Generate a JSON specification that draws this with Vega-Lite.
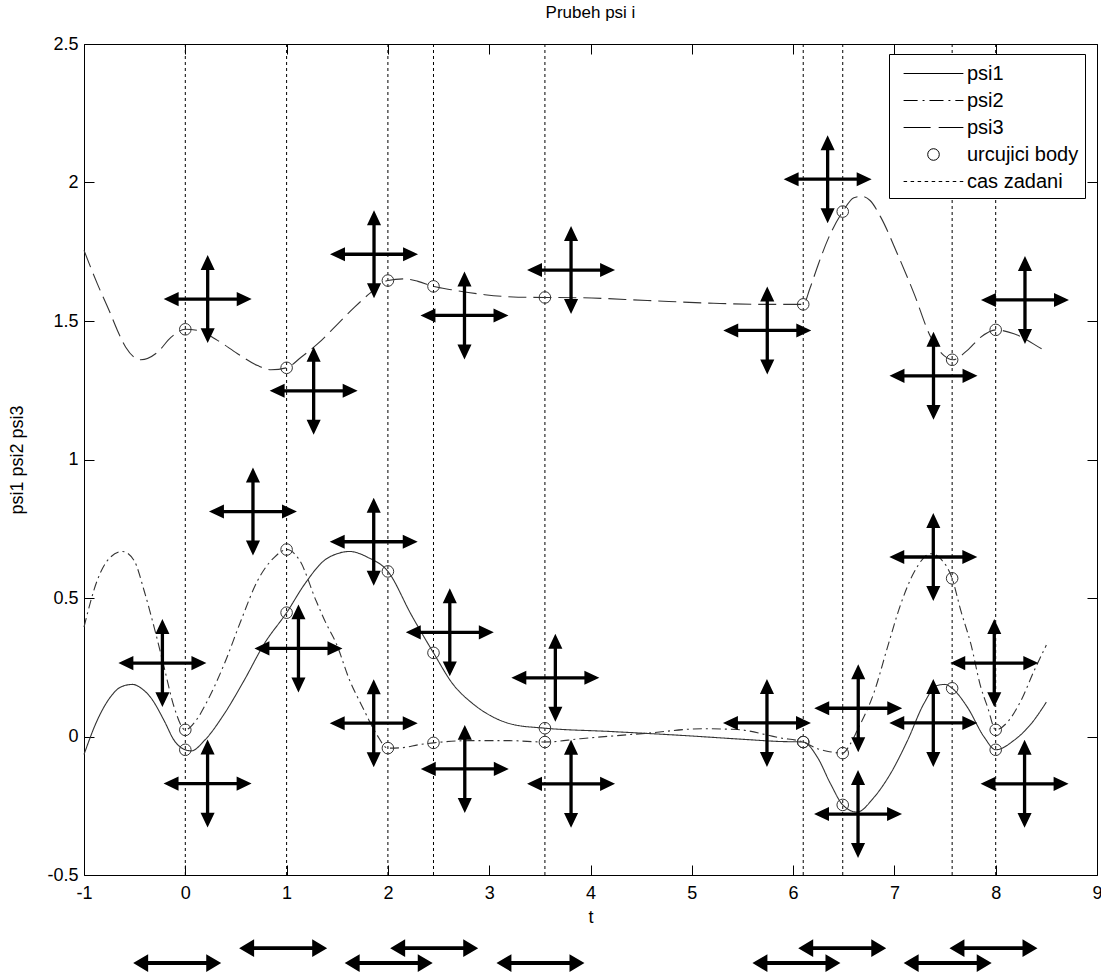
{
  "$schema": "https://vega.github.io/schema/vega-lite/v6.json",
  "width": 1013,
  "height": 831,
  "autosize": "none",
  "padding": {"left": 84, "top": 44, "right": 4, "bottom": 100},
  "background": "white",
  "title": {"text": "Prubeh psi i", "font": "Liberation Sans", "fontSize": 17, "fontWeight": "normal", "color": "black", "offset": 13, "frame": "group", "anchor": "middle"},
  "config": {"view": {"stroke": null}},
  "datasets": {
    "curves": [
      {"t": -1.0, "value": -0.065, "series": "psi1"},
      {"t": -0.87, "value": 0.058, "series": "psi1"},
      {"t": -0.74, "value": 0.142, "series": "psi1"},
      {"t": -0.63, "value": 0.18, "series": "psi1"},
      {"t": -0.52, "value": 0.188, "series": "psi1"},
      {"t": -0.42, "value": 0.17, "series": "psi1"},
      {"t": -0.34, "value": 0.14, "series": "psi1"},
      {"t": -0.21, "value": 0.058, "series": "psi1"},
      {"t": -0.11, "value": -0.014, "series": "psi1"},
      {"t": 0.0, "value": -0.048, "series": "psi1"},
      {"t": 0.06, "value": -0.052, "series": "psi1"},
      {"t": 0.19, "value": -0.014, "series": "psi1"},
      {"t": 0.385, "value": 0.082, "series": "psi1"},
      {"t": 0.58, "value": 0.202, "series": "psi1"},
      {"t": 0.78, "value": 0.335, "series": "psi1"},
      {"t": 1.0, "value": 0.447, "series": "psi1"},
      {"t": 1.18, "value": 0.551, "series": "psi1"},
      {"t": 1.37, "value": 0.635, "series": "psi1"},
      {"t": 1.5, "value": 0.66, "series": "psi1"},
      {"t": 1.62, "value": 0.668, "series": "psi1"},
      {"t": 1.8, "value": 0.647, "series": "psi1"},
      {"t": 2.0, "value": 0.596, "series": "psi1"},
      {"t": 2.23, "value": 0.44, "series": "psi1"},
      {"t": 2.45, "value": 0.302, "series": "psi1"},
      {"t": 2.64, "value": 0.19, "series": "psi1"},
      {"t": 2.84, "value": 0.118, "series": "psi1"},
      {"t": 3.04, "value": 0.07, "series": "psi1"},
      {"t": 3.24, "value": 0.043, "series": "psi1"},
      {"t": 3.55, "value": 0.03, "series": "psi1"},
      {"t": 4.2, "value": 0.018, "series": "psi1"},
      {"t": 4.9, "value": 0.004, "series": "psi1"},
      {"t": 5.5, "value": -0.01, "series": "psi1"},
      {"t": 5.87, "value": -0.018, "series": "psi1"},
      {"t": 6.1, "value": -0.02, "series": "psi1"},
      {"t": 6.24, "value": -0.075, "series": "psi1"},
      {"t": 6.37, "value": -0.171, "series": "psi1"},
      {"t": 6.49, "value": -0.247, "series": "psi1"},
      {"t": 6.63, "value": -0.273, "series": "psi1"},
      {"t": 6.8, "value": -0.219, "series": "psi1"},
      {"t": 6.96, "value": -0.135, "series": "psi1"},
      {"t": 7.13, "value": -0.014, "series": "psi1"},
      {"t": 7.29, "value": 0.118, "series": "psi1"},
      {"t": 7.42, "value": 0.184, "series": "psi1"},
      {"t": 7.5, "value": 0.188, "series": "psi1"},
      {"t": 7.57, "value": 0.174, "series": "psi1"},
      {"t": 7.72, "value": 0.106, "series": "psi1"},
      {"t": 7.886, "value": -0.002, "series": "psi1"},
      {"t": 8.0, "value": -0.048, "series": "psi1"},
      {"t": 8.18, "value": -0.014, "series": "psi1"},
      {"t": 8.35, "value": 0.046, "series": "psi1"},
      {"t": 8.5, "value": 0.124, "series": "psi1"},
      {"t": -1.0, "value": 0.395, "series": "psi2"},
      {"t": -0.87, "value": 0.563, "series": "psi2"},
      {"t": -0.74, "value": 0.647, "series": "psi2"},
      {"t": -0.62, "value": 0.668, "series": "psi2"},
      {"t": -0.505, "value": 0.635, "series": "psi2"},
      {"t": -0.407, "value": 0.527, "series": "psi2"},
      {"t": -0.308, "value": 0.395, "series": "psi2"},
      {"t": -0.209, "value": 0.25, "series": "psi2"},
      {"t": -0.11, "value": 0.106, "series": "psi2"},
      {"t": 0.0, "value": 0.024, "series": "psi2"},
      {"t": 0.1, "value": 0.055, "series": "psi2"},
      {"t": 0.22, "value": 0.13, "series": "psi2"},
      {"t": 0.385, "value": 0.262, "series": "psi2"},
      {"t": 0.55, "value": 0.419, "series": "psi2"},
      {"t": 0.714, "value": 0.563, "series": "psi2"},
      {"t": 0.879, "value": 0.647, "series": "psi2"},
      {"t": 1.0, "value": 0.675, "series": "psi2"},
      {"t": 1.13, "value": 0.635, "series": "psi2"},
      {"t": 1.29, "value": 0.491, "series": "psi2"},
      {"t": 1.39, "value": 0.408, "series": "psi2"},
      {"t": 1.49, "value": 0.336, "series": "psi2"},
      {"t": 1.62, "value": 0.205, "series": "psi2"},
      {"t": 1.75, "value": 0.106, "series": "psi2"},
      {"t": 1.885, "value": 0.01, "series": "psi2"},
      {"t": 2.0, "value": -0.042, "series": "psi2"},
      {"t": 2.15, "value": -0.04, "series": "psi2"},
      {"t": 2.3, "value": -0.03, "series": "psi2"},
      {"t": 2.45, "value": -0.023, "series": "psi2"},
      {"t": 2.8, "value": -0.015, "series": "psi2"},
      {"t": 3.2, "value": -0.015, "series": "psi2"},
      {"t": 3.55, "value": -0.02, "series": "psi2"},
      {"t": 3.9, "value": -0.008, "series": "psi2"},
      {"t": 4.56, "value": 0.012, "series": "psi2"},
      {"t": 5.1, "value": 0.028, "series": "psi2"},
      {"t": 5.45, "value": 0.025, "series": "psi2"},
      {"t": 5.87, "value": -0.005, "series": "psi2"},
      {"t": 6.1, "value": -0.02, "series": "psi2"},
      {"t": 6.24, "value": -0.044, "series": "psi2"},
      {"t": 6.335, "value": -0.053, "series": "psi2"},
      {"t": 6.49, "value": -0.06, "series": "psi2"},
      {"t": 6.56, "value": -0.03, "series": "psi2"},
      {"t": 6.633, "value": 0.022, "series": "psi2"},
      {"t": 6.8, "value": 0.16, "series": "psi2"},
      {"t": 6.93, "value": 0.32, "series": "psi2"},
      {"t": 7.06, "value": 0.475, "series": "psi2"},
      {"t": 7.19, "value": 0.59, "series": "psi2"},
      {"t": 7.36, "value": 0.66, "series": "psi2"},
      {"t": 7.46, "value": 0.64, "series": "psi2"},
      {"t": 7.57, "value": 0.571, "series": "psi2"},
      {"t": 7.655, "value": 0.455, "series": "psi2"},
      {"t": 7.754, "value": 0.335, "series": "psi2"},
      {"t": 7.853, "value": 0.178, "series": "psi2"},
      {"t": 7.92, "value": 0.106, "series": "psi2"},
      {"t": 8.0, "value": 0.024, "series": "psi2"},
      {"t": 8.117, "value": 0.052, "series": "psi2"},
      {"t": 8.25, "value": 0.13, "series": "psi2"},
      {"t": 8.38, "value": 0.238, "series": "psi2"},
      {"t": 8.5, "value": 0.33, "series": "psi2"},
      {"t": -1.0, "value": 1.755, "series": "psi3"},
      {"t": -0.868, "value": 1.634, "series": "psi3"},
      {"t": -0.752, "value": 1.538, "series": "psi3"},
      {"t": -0.67, "value": 1.466, "series": "psi3"},
      {"t": -0.588, "value": 1.405, "series": "psi3"},
      {"t": -0.44, "value": 1.36, "series": "psi3"},
      {"t": -0.275, "value": 1.387, "series": "psi3"},
      {"t": -0.142, "value": 1.441, "series": "psi3"},
      {"t": 0.0, "value": 1.47, "series": "psi3"},
      {"t": 0.121, "value": 1.466, "series": "psi3"},
      {"t": 0.318, "value": 1.43, "series": "psi3"},
      {"t": 0.516, "value": 1.382, "series": "psi3"},
      {"t": 0.714, "value": 1.339, "series": "psi3"},
      {"t": 0.846, "value": 1.324, "series": "psi3"},
      {"t": 1.0, "value": 1.331, "series": "psi3"},
      {"t": 1.143, "value": 1.369, "series": "psi3"},
      {"t": 1.308, "value": 1.418, "series": "psi3"},
      {"t": 1.506, "value": 1.49, "series": "psi3"},
      {"t": 1.671, "value": 1.55, "series": "psi3"},
      {"t": 1.836, "value": 1.604, "series": "psi3"},
      {"t": 2.0, "value": 1.646, "series": "psi3"},
      {"t": 2.165, "value": 1.652, "series": "psi3"},
      {"t": 2.297, "value": 1.643, "series": "psi3"},
      {"t": 2.45, "value": 1.625, "series": "psi3"},
      {"t": 2.627, "value": 1.613, "series": "psi3"},
      {"t": 2.957, "value": 1.595, "series": "psi3"},
      {"t": 3.286, "value": 1.586, "series": "psi3"},
      {"t": 3.55, "value": 1.585, "series": "psi3"},
      {"t": 3.9, "value": 1.584, "series": "psi3"},
      {"t": 4.56, "value": 1.574, "series": "psi3"},
      {"t": 5.215, "value": 1.564, "series": "psi3"},
      {"t": 5.71, "value": 1.56, "series": "psi3"},
      {"t": 6.1, "value": 1.56, "series": "psi3"},
      {"t": 6.17, "value": 1.622, "series": "psi3"},
      {"t": 6.25, "value": 1.706, "series": "psi3"},
      {"t": 6.35, "value": 1.8, "series": "psi3"},
      {"t": 6.49, "value": 1.895, "series": "psi3"},
      {"t": 6.6, "value": 1.945, "series": "psi3"},
      {"t": 6.68, "value": 1.95, "series": "psi3"},
      {"t": 6.76, "value": 1.935, "series": "psi3"},
      {"t": 6.865, "value": 1.875, "series": "psi3"},
      {"t": 7.03, "value": 1.742, "series": "psi3"},
      {"t": 7.195, "value": 1.598, "series": "psi3"},
      {"t": 7.36, "value": 1.441, "series": "psi3"},
      {"t": 7.49, "value": 1.375, "series": "psi3"},
      {"t": 7.576, "value": 1.36, "series": "psi3"},
      {"t": 7.72, "value": 1.394, "series": "psi3"},
      {"t": 7.85, "value": 1.441, "series": "psi3"},
      {"t": 8.0, "value": 1.468, "series": "psi3"},
      {"t": 8.18, "value": 1.454, "series": "psi3"},
      {"t": 8.48, "value": 1.394, "series": "psi3"},
      {"t": 8.5, "value": 1.39, "series": "psi3"}
    ],
    "points": [
      {"t": 0, "value": -0.048, "series": "urcujici body"},
      {"t": 0, "value": 0.024, "series": "urcujici body"},
      {"t": 0, "value": 1.47, "series": "urcujici body"},
      {"t": 1, "value": 0.447, "series": "urcujici body"},
      {"t": 1, "value": 0.675, "series": "urcujici body"},
      {"t": 1, "value": 1.331, "series": "urcujici body"},
      {"t": 2, "value": 0.596, "series": "urcujici body"},
      {"t": 2, "value": -0.042, "series": "urcujici body"},
      {"t": 2, "value": 1.646, "series": "urcujici body"},
      {"t": 2.45, "value": 0.302, "series": "urcujici body"},
      {"t": 2.45, "value": -0.023, "series": "urcujici body"},
      {"t": 2.45, "value": 1.625, "series": "urcujici body"},
      {"t": 3.55, "value": 0.03, "series": "urcujici body"},
      {"t": 3.55, "value": -0.02, "series": "urcujici body"},
      {"t": 3.55, "value": 1.585, "series": "urcujici body"},
      {"t": 6.1, "value": -0.02, "series": "urcujici body"},
      {"t": 6.1, "value": -0.02, "series": "urcujici body"},
      {"t": 6.1, "value": 1.56, "series": "urcujici body"},
      {"t": 6.49, "value": -0.247, "series": "urcujici body"},
      {"t": 6.49, "value": -0.06, "series": "urcujici body"},
      {"t": 6.49, "value": 1.895, "series": "urcujici body"},
      {"t": 7.57, "value": 0.174, "series": "urcujici body"},
      {"t": 7.57, "value": 0.571, "series": "urcujici body"},
      {"t": 7.57, "value": 1.36, "series": "urcujici body"},
      {"t": 8, "value": -0.048, "series": "urcujici body"},
      {"t": 8, "value": 0.024, "series": "urcujici body"},
      {"t": 8, "value": 1.468, "series": "urcujici body"}
    ],
    "times": [
      {"t": 0}, {"t": 1}, {"t": 2}, {"t": 2.45}, {"t": 3.55}, {"t": 6.1}, {"t": 6.49}, {"t": 7.57}, {"t": 8}
    ],
    "cross": [
      {"t": 0.221, "value": 1.579}, {"t": 1.267, "value": 1.248}, {"t": 1.863, "value": 1.741},
      {"t": 2.756, "value": 1.52}, {"t": 3.808, "value": 1.684}, {"t": 5.745, "value": 1.466},
      {"t": 6.341, "value": 2.012}, {"t": 7.386, "value": 1.302}, {"t": 8.289, "value": 1.576},
      {"t": 0.668, "value": 0.812}, {"t": -0.226, "value": 0.265}, {"t": 0.22, "value": -0.17},
      {"t": 1.117, "value": 0.318}, {"t": 1.86, "value": 0.703}, {"t": 1.86, "value": 0.048},
      {"t": 2.611, "value": 0.376}, {"t": 2.759, "value": -0.117}, {"t": 3.653, "value": 0.212},
      {"t": 3.808, "value": -0.171}, {"t": 5.742, "value": 0.049}, {"t": 6.643, "value": 0.102},
      {"t": 6.641, "value": -0.28}, {"t": 7.384, "value": 0.648}, {"t": 7.384, "value": 0.049},
      {"t": 7.986, "value": 0.265}, {"t": 8.285, "value": -0.171}
    ],
    "horiz": [
      {"t": -0.08, "value": -0.818}, {"t": 2.008, "value": -0.818}, {"t": 3.506, "value": -0.818},
      {"t": 6.033, "value": -0.818}, {"t": 7.526, "value": -0.818},
      {"t": 0.966, "value": -0.764}, {"t": 2.457, "value": -0.764}, {"t": 6.485, "value": -0.764},
      {"t": 7.978, "value": -0.764}
    ]
  },
  "resolve": {"axis": {"x": "independent", "y": "independent"}},
  "layer": [
    {
      "data": {"name": "times"},
      "mark": {"type": "rule", "color": "black", "strokeWidth": 1, "strokeDash": [3, 3]},
      "encoding": {
        "x": {"field": "t", "type": "quantitative", "scale": {"domain": [-1, 9], "nice": false, "zero": false}, "axis": null}
      }
    },
    {
      "data": {"name": "curves"},
      "mark": {"type": "line", "color": "#333333", "strokeWidth": 1.1, "interpolate": "monotone"},
      "encoding": {
        "x": {"field": "t", "type": "quantitative", "scale": {"domain": [-1, 9], "nice": false, "zero": false},
          "axis": {"orient": "bottom", "values": [-1, 0, 1, 2, 3, 4, 5, 6, 7, 8, 9], "labelExpr": "toString(datum.value)", "title": "t",
            "grid": false, "tickSize": -10, "labelPadding": 19, "labelFlush": false, "labelOverlap": false,
            "domainColor": "black", "tickColor": "black", "labelColor": "black", "titleColor": "black",
            "labelFont": "Liberation Sans", "labelFontSize": 18, "titleFont": "Liberation Sans", "titleFontSize": 18, "titleFontWeight": "normal", "titlePadding": 6}},
        "y": {"field": "value", "type": "quantitative", "scale": {"domain": [-0.5, 2.5], "nice": false, "zero": false},
          "axis": {"orient": "left", "values": [-0.5, 0, 0.5, 1, 1.5, 2, 2.5], "labelExpr": "toString(datum.value)", "title": "psi1 psi2 psi3",
            "grid": false, "tickSize": -10, "labelPadding": 16, "labelFlush": false, "labelOverlap": false,
            "domainColor": "black", "tickColor": "black", "labelColor": "black", "titleColor": "black",
            "labelFont": "Liberation Sans", "labelFontSize": 18, "titleFont": "Liberation Sans", "titleFontSize": 18, "titleFontWeight": "normal", "titlePadding": 20}},
        "strokeDash": {"field": "series", "type": "nominal", "scale": {"domain": ["psi1", "psi2", "psi3"], "range": [[1, 0], [9, 4, 2, 4], [18, 7]]}, "legend": null},
        "detail": {"field": "series"}
      }
    },
    {
      "data": {"name": "points"},
      "mark": {"type": "point", "filled": false, "stroke": "#333333", "strokeWidth": 1, "size": 676, "opacity": 1},
      "encoding": {
        "x": {"field": "t", "type": "quantitative", "scale": {"domain": [-1, 9], "nice": false, "zero": false},
          "axis": {"orient": "top", "values": [-1, 0, 1, 2, 3, 4, 5, 6, 7, 8, 9], "labels": false, "title": null, "grid": false, "tickSize": -10, "domainColor": "black", "tickColor": "black"}},
        "y": {"field": "value", "type": "quantitative", "scale": {"domain": [-0.5, 2.5], "nice": false, "zero": false},
          "axis": {"orient": "right", "values": [-0.5, 0, 0.5, 1, 1.5, 2, 2.5], "labels": false, "title": null, "grid": false, "tickSize": -10, "domainColor": "black", "tickColor": "black"}},
        "shape": {"field": "series", "type": "nominal",
          "scale": {"domain": ["psi1", "psi2", "psi3", "urcujici body", "cas zadani"],
            "range": [
              "M-2.3,0L2.3,0",
              "M-2.3,0L-1.22,0M-0.84,0L-0.69,0M-0.31,0L0.77,0M1.15,0L1.3,0M1.68,0L2.3,0",
              "M-2.3,0L-0.22,0M0.4,0L2.3,0",
              "M0.446,0A0.446,0.446,0,1,1,-0.446,0A0.446,0.446,0,1,1,0.446,0Z",
              "M-2.3,0L-2.03,0M-1.76,0L-1.49,0M-1.22,0L-0.95,0M-0.68,0L-0.41,0M-0.14,0L0.13,0M0.4,0L0.67,0M0.94,0L1.21,0M1.48,0L1.75,0M2.02,0L2.29,0"
            ]},
          "legend": {"title": null, "orient": "none", "legendX": 805, "legendY": 10, "direction": "vertical",
            "padding": 6, "strokeColor": "black", "fillColor": "white", "cornerRadius": 0,
            "labelFont": "Liberation Sans", "labelFontSize": 20, "labelColor": "black",
            "symbolSize": 676, "symbolStrokeColor": "black", "symbolStrokeWidth": 1, "symbolFillColor": "white", "symbolOpacity": 1,
            "labelOffset": 20, "rowPadding": 3, "symbolOffset": 25}
        }
      }
    },
    {
      "data": {"name": "cross"},
      "mark": {"type": "point", "filled": true, "color": "black", "opacity": 1, "size": 7744,
        "shape": "M0.0375,-0.0375L0.66,-0.0375L0.66,-0.16L1,0L0.66,0.16L0.66,0.0375L0.0375,0.0375L0.0375,0.66L0.16,0.66L0,1L-0.16,0.66L-0.0375,0.66L-0.0375,0.0375L-0.66,0.0375L-0.66,0.16L-1,0L-0.66,-0.16L-0.66,-0.0375L-0.0375,-0.0375L-0.0375,-0.66L-0.16,-0.66L0,-1L0.16,-0.66L0.0375,-0.66Z"},
      "encoding": {
        "x": {"field": "t", "type": "quantitative", "scale": {"domain": [-1, 9], "nice": false, "zero": false}, "axis": null},
        "y": {"field": "value", "type": "quantitative", "scale": {"domain": [-0.5, 2.5], "nice": false, "zero": false}, "axis": null}
      }
    },
    {
      "data": {"name": "horiz"},
      "mark": {"type": "point", "filled": true, "color": "black", "opacity": 1, "size": 7744,
        "shape": "M-1,0L-0.66,-0.2L-0.66,-0.045L0.66,-0.045L0.66,-0.2L1,0L0.66,0.2L0.66,0.045L-0.66,0.045L-0.66,0.2Z"},
      "encoding": {
        "x": {"field": "t", "type": "quantitative", "scale": {"domain": [-1, 9], "nice": false, "zero": false}, "axis": null},
        "y": {"field": "value", "type": "quantitative", "scale": {"domain": [-0.5, 2.5], "nice": false, "zero": false}, "axis": null}
      }
    }
  ]
}
